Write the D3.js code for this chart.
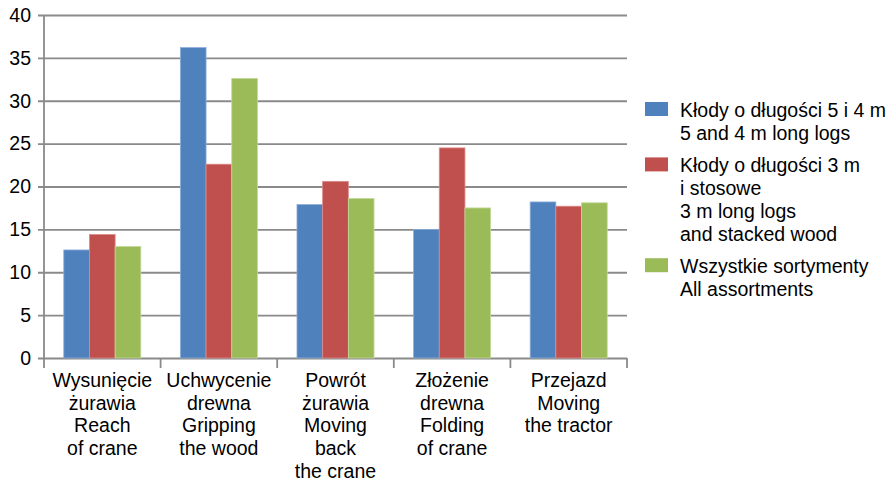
<!DOCTYPE html>
<html>
<head>
<meta charset="utf-8">
<script src="https://cdn.jsdelivr.net/npm/d3@7"></script>
<style>
	body { margin: 0; background: #fff; }
	text { font-family: "Liberation Sans", Arial, sans-serif; font-size: 19.5px; fill: #000; }
	.grid line { stroke: #8a8a8a; stroke-width: 1.8; }
	.grid path { display: none; }
</style>
</head>
<body>
<script>
// categories (multi-line labels)
var categories = [
	["Wysunięcie", "żurawia", "Reach", "of crane"],
	["Uchwycenie", "drewna", "Gripping", "the wood"],
	["Powrót", "żurawia", "Moving", "back", "the crane"],
	["Złożenie", "drewna", "Folding", "of crane"],
	["Przejazd", "Moving", "the tractor"]
];
var seriesNames = [
	["Kłody o długości 5 i 4 m", "5 and 4 m long logs"],
	["Kłody o długości 3 m", "i stosowe", "3 m long logs", "and stacked wood"],
	["Wszystkie sortymenty", "All assortments"]
];
var logs54 = [12.6, 36.2, 17.9, 15.0, 18.2];
var logs3 = [14.4, 22.6, 20.6, 24.5, 17.7];
var allAss = [13.0, 32.6, 18.6, 17.5, 18.1];
var yTicks = [0, 5, 10, 15, 20, 25, 30, 35, 40];

var colors = ["#4f81bd", "#c0504d", "#9bbb59"];
var strokes = ["#8eaedb", "#dc8a88", "#c3d99a"];

var w = 896, h = 482;
var pLeft = 44, pRight = 627, pTop = 15, pBottom = 358;

var svg = d3.select("body").append("svg")
	.attr("width", w)
	.attr("height", h);

var catIdx = categories.map((c, i) => i);
var x0 = d3.scaleBand().domain(catIdx).range([pLeft, pRight]);
var x1 = d3.scaleBand().domain([0, 1, 2]).range([0, x0.bandwidth()]).paddingOuter(0.77);
var y = d3.scaleLinear().domain([0, 40]).range([pBottom, pTop]);

// gridlines + y labels
svg.append("g")
	.attr("class", "grid")
	.attr("transform", "translate(" + pRight + ",0)")
	.call(d3.axisLeft(y).tickValues(yTicks).tickSize(pRight - pLeft + 6).tickPadding(7))
	.selectAll("text")
	.style("font-size", "19.5px")
	.style("font-family", "'Liberation Sans', Arial, sans-serif")
	.attr("fill", "#000");

// y axis line
svg.append("line")
	.attr("x1", pLeft).attr("x2", pLeft)
	.attr("y1", pTop).attr("y2", pBottom)
	.attr("stroke", "#8a8a8a").attr("stroke-width", 1.8);

// category tick marks
var bounds = catIdx.map(i => x0(i)).concat([pRight]);
svg.selectAll("line.ctick")
	.data(bounds)
	.enter()
	.append("line")
	.attr("class", "ctick")
	.attr("x1", d => d).attr("x2", d => d)
	.attr("y1", pBottom).attr("y2", pBottom + 10)
	.attr("stroke", "#8a8a8a").attr("stroke-width", 1.8);

// bars
var series = [logs54, logs3, allAss];
series.forEach((vals, s) => {
	svg.selectAll("rect.s" + s)
		.data(vals)
		.enter()
		.append("rect")
		.attr("class", "s" + s)
		.attr("x", (d, i) => x0(i) + x1(s))
		.attr("y", d => y(d))
		.attr("width", x1.bandwidth())
		.attr("height", d => pBottom - y(d))
		.attr("fill", colors[s])
		.attr("stroke", strokes[s])
		.attr("stroke-width", 0.8);
});

// x labels
var lh = 22.7;
categories.forEach((lines, i) => {
	var t = svg.append("text")
		.attr("text-anchor", "middle")
		.attr("x", x0(i) + x0.bandwidth() / 2)
		.attr("y", 387);
	lines.forEach((l, k) => {
		t.append("tspan")
			.attr("x", x0(i) + x0.bandwidth() / 2)
			.attr("dy", k == 0 ? 0 : lh)
			.text(l);
	});
});

// legend
var ly = 102;
seriesNames.forEach((lines, s) => {
	svg.append("rect")
		.attr("x", 645).attr("y", ly)
		.attr("width", 23).attr("height", 14)
		.attr("fill", colors[s]);
	var t = svg.append("text").attr("x", 680).attr("y", ly + 15);
	lines.forEach((l, k) => {
		t.append("tspan")
			.attr("x", 680)
			.attr("dy", k == 0 ? 0 : lh)
			.text(l);
	});
	ly += lines.length * lh + 10;
});
</script>
</body>
</html>
